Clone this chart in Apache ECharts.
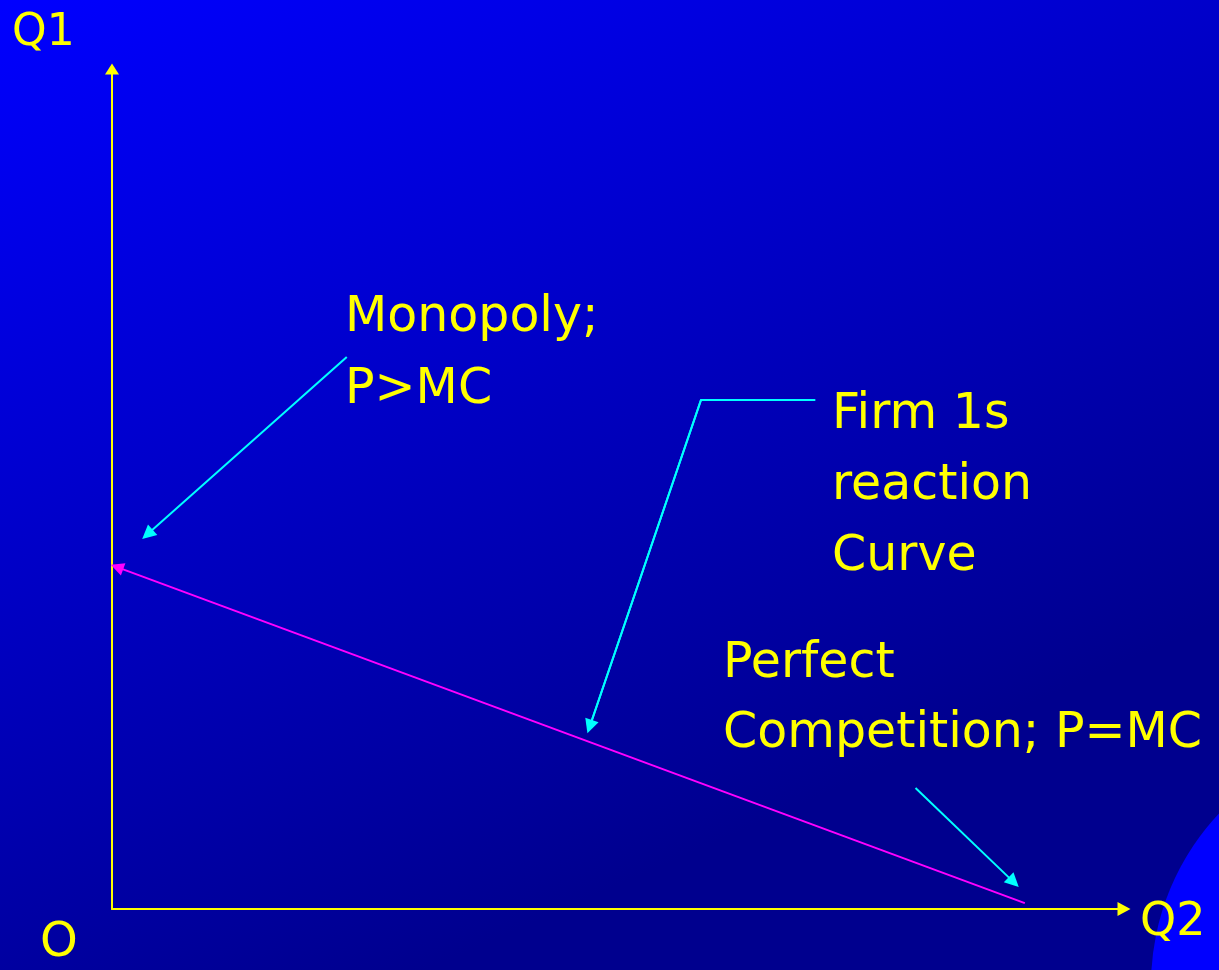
<!DOCTYPE html>
<html>
<head>
<meta charset="utf-8">
<style>
  html, body { margin: 0; padding: 0; background: #00008e; }
  #chart { width: 1219px; height: 970px; }
</style>
<script src="https://cdn.jsdelivr.net/npm/echarts@6/dist/echarts.min.js"></script>
</head>
<body>
<div id="chart"></div>
<script>
// reaction curve: Q2 on x, Q1 on y (0..100 scale)
var reactionCurve = [[0.5, 40.7], [90.2, 0.7]];
// annotation pointers
var monopolyArrow = [[23.2, 65.7], [3.5, 44.6]];
var firmArrow = [[69.5, 60.6], [58.2, 60.6], [47.2, 21.7]];
var competitionArrow = [[79.4, 14.4], [89.1, 3.2]];

var monopolyText = 'Monopoly;\nP>MC';
var firmText = 'Firm 1s\nreaction\nCurve';
var competitionText = 'Perfect\nCompetition; P=MC';

var chart = echarts.init(document.getElementById('chart'));

var font = '"DejaVu Sans", sans-serif';

function label(x, y, text, size, lh) {
  return {
    type: 'text', x: x, y: y, z: 20,
    style: {
      text: text, fill: '#ffff00', font: size + 'px ' + font,
      lineHeight: lh || size, verticalAlign: 'top'
    }
  };
}

var arrowSize = [13, 14];

var option = {
  backgroundColor: {
    type: 'linear', x: 0, y: 0, x2: 0.35, y2: 1,
    colorStops: [
      { offset: 0, color: '#0000ff' },
      { offset: 1, color: '#00008e' }
    ]
  },
  grid: { left: 112, right: 95, top: 69, bottom: 61 },
  xAxis: {
    type: 'value', min: 0, max: 100,
    splitLine: { show: false }, axisTick: { show: false }, axisLabel: { show: false },
    axisLine: {
      lineStyle: { color: '#ffff00', width: 2 },
      symbol: ['none', 'triangle'], symbolSize: [14, 13]
    }
  },
  yAxis: {
    type: 'value', min: 0, max: 100,
    splitLine: { show: false }, axisTick: { show: false }, axisLabel: { show: false },
    axisLine: {
      lineStyle: { color: '#ffff00', width: 2 },
      symbol: ['none', 'triangle'], symbolSize: [14, 11]
    }
  },
  graphic: [
    { type: 'circle', shape: { cx: 1401, cy: 985, r: 250 }, style: { fill: '#0000ff' }, z: -10 },
    label(12, 12, 'Q1', 44, 44),
    label(40, 920, 'O', 48, 48),
    label(1140, 900, 'Q2', 46, 46),
    label(345, 282, monopolyText, 49, 72),
    label(832, 380, firmText, 49, 71),
    label(723, 629, competitionText, 49, 70)
  ],
  series: [
    {
      type: 'lines', coordinateSystem: 'cartesian2d', z: 5,
      symbol: ['triangle', 'none'], symbolSize: arrowSize,
      lineStyle: { color: '#ff00ff', width: 2, opacity: 1 },
      data: [{ coords: reactionCurve }]
    },
    {
      // bent leader line without heads
      type: 'lines', coordinateSystem: 'cartesian2d', z: 5, polyline: true,
      lineStyle: { color: '#00ffff', width: 2, opacity: 1 },
      data: [{ coords: firmArrow }]
    },
    {
      type: 'lines', coordinateSystem: 'cartesian2d', z: 5,
      symbol: ['none', 'triangle'], symbolSize: arrowSize,
      lineStyle: { color: '#00ffff', width: 2, opacity: 1 },
      data: [
        { coords: monopolyArrow },
        { coords: firmArrow.slice(1) },
        { coords: competitionArrow }
      ]
    }
  ]
};

chart.setOption(option);
</script>
</body>
</html>
